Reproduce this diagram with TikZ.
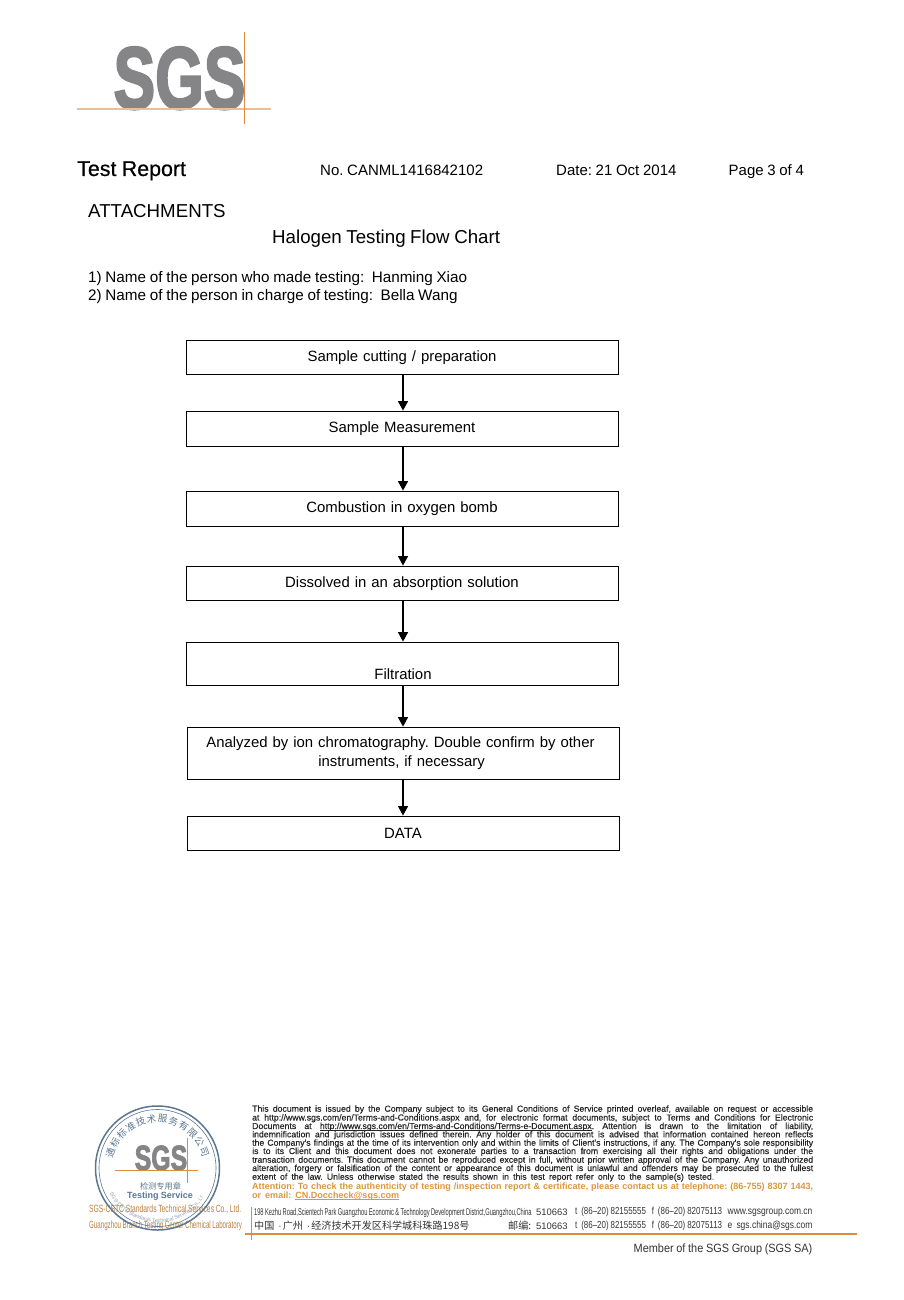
\documentclass[tikz,border=0pt]{standalone}
\usepackage{fontspec}
\setmainfont[WordSpace=0.88]{Liberation Sans}
\newfontfamily\cjk{Noto Sans CJK SC}
\newfontfamily\logofont[BoldFeatures={FakeBold=2.8}]{Liberation Sans}
\newfontfamily\legalfont[FakeBold=0.4,WordSpace=0.9]{Liberation Sans}
\newfontfamily\legalbold[WordSpace=0.9]{Liberation Sans}
\newfontfamily\titlefont[FakeBold=0.5,WordSpace=0.9]{Liberation Sans}
\usetikzlibrary{arrows.meta,decorations.text}
\definecolor{sgsgrey}{HTML}{858587}
\definecolor{sgsorange}{HTML}{DE8A40}
\definecolor{sgspale}{HTML}{EBBE98}
\definecolor{attn}{HTML}{D9973F}
\definecolor{sealblue}{HTML}{5A7690}
\newcommand{\legalline}[1]{\makebox[561pt][s]{#1}}
\newcommand{\legalul}[1]{\setbox0\hbox{#1}\rlap{\rule[-1.2pt]{\wd0}{0.4pt}}\box0}
\tikzset{
  x=1pt,y=-1pt,
  flowbox/.style={draw=black,line width=0.8pt,minimum width=432pt,inner sep=0pt,align=center,text width=405pt,font=\fontsize{14.9}{19}\selectfont},
  flowarrow/.style={draw=black,line width=1.3pt,-{Triangle[length=9.5pt,width=10pt]}},
  body/.style={inner sep=0pt,anchor=base west,font=\fontsize{15.25}{18}\selectfont},
  legal/.style={inner sep=0pt,anchor=base west,font=\legalfont\fontsize{8.7}{9}\selectfont,text=black!85},
  legalorange/.style={legal,font=\legalbold\bfseries\fontsize{9.05}{9}\selectfont,text=attn},
  addr/.style={inner sep=0pt,anchor=base west,text=black!80},
  logotext/.style={inner sep=0pt,text=sgsgrey},
}
\begin{document}
\frenchspacing
\begin{tikzpicture}
\useasboundingbox (0,0) rectangle (904,1300);
% logo
\node[logotext,anchor=base,font=\logofont\bfseries\fontsize{88}{88}\selectfont,xscale=0.71] (logo) at (179.5,108.5) {SGS};
\fill[sgspale] (77,108.5) rectangle (271,110.5);
\fill[sgsorange] (243.8,32) rectangle (244.8,124);
% header
\node[inner sep=0pt,anchor=base west,font=\titlefont\fontsize{21.4}{24}\selectfont] (title) at (77,176) {Test Report};
\node[body,font=\fontsize{15}{18}\selectfont] (no) at (320,176) {No. CANML1416842102};
\node[body,font=\fontsize{15}{18}\selectfont] (date) at (556,176) {Date: 21 Oct 2014};
\node[body,font=\fontsize{15}{18}\selectfont] (page) at (728.5,176) {Page 3 of 4};
\node[body,font=\fontsize{18.7}{20}\selectfont] (att) at (88,218) {ATTACHMENTS};
\node[body,font=\fontsize{18.7}{20}\selectfont] (head) at (272,243) {Halogen Testing Flow Chart};
\node[body] (p1) at (88,282) {1) Name of the person who made testing:\ \ Hanming Xiao};
\node[body] (p2) at (88,300) {2) Name of the person in charge of testing:\ \ Bella Wang};
% flow
\node[flowbox,minimum height=34.5pt] (b1) at (402,357.2) {Sample cutting / preparation};
\node[flowbox,minimum height=35pt] (b2) at (402,428.5) {Sample Measurement};
\node[flowbox,minimum height=35pt] (b3) at (402,508.5) {Combustion in oxygen bomb};
\node[flowbox,minimum height=34.5pt] (b4) at (402,583.2) {Dissolved in an absorption solution};
\node[flowbox,minimum height=43pt] (b5) at (402,663.5) {};
\node[inner sep=0pt,anchor=base,font=\fontsize{14.9}{19}\selectfont] (b5t) at (403,679) {Filtration};
\node[flowbox,minimum height=52pt] (b6) at (403,753) {\hspace*{-5pt}Analyzed by ion chromatography. Double confirm by other\\\hspace*{-3pt}instruments, if necessary};
\node[flowbox,minimum height=34.5pt] (b7) at (403,833.2) {DATA};
\draw[flowarrow] (b1.south -| 403,0) -- (b2.north -| 403,0);
\draw[flowarrow] (b2.south -| 403,0) -- (b3.north -| 403,0);
\draw[flowarrow] (b3.south -| 403,0) -- (b4.north -| 403,0);
\draw[flowarrow] (b4.south -| 403,0) -- (b5.north -| 403,0);
\draw[flowarrow] (b5.south -| 403,0) -- (b6.north -| 403,0);
\draw[flowarrow] (b6.south -| 403,0) -- (b7.north -| 403,0);
% seal
\node[inner sep=0pt,anchor=base west,text=attn!85!black,font=\fontsize{10.5}{12}\selectfont,xscale=0.645] (co1) at (89,1212.7) {SGS-CSTC Standards Technical Services Co., Ltd.};
\node[inner sep=0pt,anchor=base west,text=attn!85!black,font=\fontsize{10.5}{12}\selectfont,xscale=0.59] (co2) at (89,1228.3) {Guangzhou Branch Testing Center Chemical Laboratory};
\draw[sealblue,line width=1.5pt] (157.5,1168) circle[radius=62];
\draw[sealblue,line width=0.6pt] (157.5,1168) circle[radius=58.5];
\foreach \c [count=\i] in {通,标,标,准,技,术,服,务,有,限,公,司}{
  \pgfmathsetmacro{\a}{-162+(\i-1)*13}
  \node[inner sep=0pt,text=sealblue,rotate=-\a-90,font=\cjk\fontsize{9.5}{10}\selectfont] (s\i) at ({157.5+49.5*cos(\a)},{1168+49.5*sin(\a)}) {\c};
}
\path[decorate,decoration={text along path,text color=sealblue!70,text align=center,
  text={|\fontsize{5.2}{6}\selectfont|SGS-CSTC Standards Technical Services Co., Ltd.}}]
  ({157.5+54.5*cos(147)},{1168+54.5*sin(147)}) arc[start angle=147,end angle=33,radius=54.5];
\node[logotext,anchor=base,font=\logofont\bfseries\fontsize{35}{35}\selectfont,xscale=0.71] (seallogo) at (161,1170) {SGS};
\fill[sgsorange] (115,1169.8) rectangle (198,1170.9);
\fill[sgsorange] (186.9,1138) rectangle (187.7,1183);
\node[inner sep=0pt,text=sealblue,font=\cjk\fontsize{8.2}{10}\selectfont] (seal1) at (160.5,1186) {检测专用章};
\node[inner sep=0pt,text=sealblue,font=\fontsize{9}{10}\bfseries\selectfont] (seal2) at (160,1196) {Testing Service};
% address rules
\fill[sgsorange] (251,1207) rectangle (252.4,1240);
\fill[sgsorange] (245,1232.5) rectangle (857,1234.5);
% legal
\node[legal] (l1) at (252,1111.7) {\legalline{This document is issued by the Company subject to its General Conditions of Service printed overleaf, available on request or accessible}};
\node[legal] (l2) at (252,1120.5) {\legalline{at http://www.sgs.com/en/Terms-and-Conditions.aspx and, for electronic format documents, subject to Terms and Conditions for Electronic}};
\node[legal] (l3) at (252,1129) {\legalline{Documents at \legalul{http://www.sgs.com/en/Terms-and-Conditions/Terms-e-Document.aspx}. Attention is drawn to the limitation of liability,}};
\node[legal] (l4) at (252,1137.3) {\legalline{indemnification and jurisdiction issues defined therein. Any holder of this document is advised that information contained hereon reflects}};
\node[legal] (l5) at (252,1145.7) {\legalline{the Company's findings at the time of its intervention only and within the limits of Client's instructions, if any. The Company's sole responsibility}};
\node[legal] (l6) at (252,1154) {\legalline{is to its Client and this document does not exonerate parties to a transaction from exercising all their rights and obligations under the}};
\node[legal] (l7) at (252,1162.7) {\legalline{transaction documents. This document cannot be reproduced except in full, without prior written approval of the Company. Any unauthorized}};
\node[legal] (l8) at (252,1171) {\legalline{alteration, forgery or falsification of the content or appearance of this document is unlawful and offenders may be prosecuted to the fullest}};
\node[legal] (l9) at (252,1179.7) {\makebox[462pt][s]{extent of the law. Unless otherwise stated the results shown in this test report refer only to the sample(s) tested.}};
\node[legalorange] (l10) at (252,1189.3) {\legalline{Attention: To check the authenticity of testing /inspection report \& certificate, please contact us at telephone: (86-755) 8307 1443,}};
\node[legalorange] (l11) at (252,1198.3) {\makebox[147pt][s]{or email: \legalul{CN.Doccheck@sgs.com}}};
% address
\node[addr,font=\fontsize{9.8}{11}\selectfont,xscale=0.585] (a1) at (254,1215) {198 Kezhu Road,Scientech Park Guangzhou Economic \& Technology Development District,Guangzhou,China};
\node[addr,font=\fontsize{9.4}{12}\selectfont] (a2) at (536,1215) {510663};
\node[addr,font=\fontsize{10.2}{12}\selectfont,xscale=0.78] (a3) at (575,1214) {t\ \ (86--20) 82155555\ \ \ f\ \ (86--20) 82075113};
\node[addr,font=\fontsize{10.2}{12}\selectfont,xscale=0.83] (a4) at (727.5,1214) {www.sgsgroup.com.cn};
\node[addr,font=\cjk\fontsize{10.1}{12}\selectfont] (a5) at (254,1229) {中国\hspace{4pt}{\rmfamily ·}\hspace{1pt}广州\hspace{4pt}{\rmfamily ·}\hspace{1pt}经济技术开发区科学城科珠路198号};
\node[addr,font=\cjk\fontsize{10.1}{12}\selectfont] (a6) at (508,1229) {邮编:};
\node[addr,font=\fontsize{9.4}{12}\selectfont] (a7) at (536,1229) {510663};
\node[addr,font=\fontsize{10.2}{12}\selectfont,xscale=0.78] (a8) at (575,1228) {t\ \ (86--20) 82155555\ \ \ f\ \ (86--20) 82075113};
\node[addr,font=\fontsize{10.2}{12}\selectfont,xscale=0.83] (a9) at (727.5,1228) {e\ \ sgs.china@sgs.com};
\node[addr,font=\fontsize{12}{14}\selectfont,xscale=0.91] (member) at (633.5,1252.5) {Member of the SGS Group (SGS SA)};
\end{tikzpicture}
\end{document}
